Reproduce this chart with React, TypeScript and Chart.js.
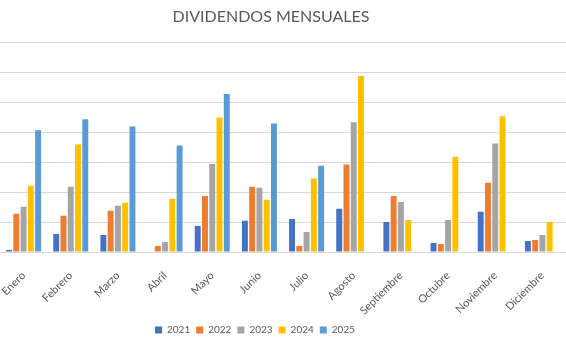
import React, { useEffect, useRef } from "react";
import { Chart, registerables } from "chart.js";

Chart.register(...registerables);

const months = ["Enero", "Febrero", "Marzo", "Abril", "Mayo", "Junio", "Julio", "Agosto", "Septiembre", "Octubre", "Noviembre", "Diciembre"];
const years = ["2021", "2022", "2023", "2024", "2025"];
const v2021 = [0.07, 0.6, 0.57, 0, 0.87, 1.04, 1.1, 1.44, 1.0, 0.3, 1.34, 0.37];
const v2022 = [1.28, 1.21, 1.38, 0.2, 1.87, 2.18, 0.2, 2.92, 1.87, 0.27, 2.31, 0.4];
const v2023 = [1.51, 2.18, 1.54, 0.33, 2.94, 2.14, 0.67, 4.33, 1.67, 1.07, 3.62, 0.57];
const v2024 = [2.21, 3.59, 1.64, 1.78, 4.49, 1.74, 2.45, 5.87, 1.07, 3.18, 4.53, 1.0];
const v2025 = [4.06, 4.43, 4.19, 3.55, 5.27, 4.29, 2.88, null, null, null, null, null];
const colors = ["#4472C4", "#ED7D31", "#A5A5A5", "#FFC000", "#5B9BD5"];
const yMax = 7;

const shiftPlugin = {
  id: "shiftBlocks",
  afterLayout(chart: any) {
    const lg = chart.legend;
    if (lg) {
      lg.top += 4;
      lg.bottom += 4;
      lg.left -= 28;
      lg.right -= 28;
    }
    const tb = chart.titleBlock;
    if (tb) {
      tb.left -= 12;
      tb.right -= 12;
    }
    const xs = chart.scales.x;
    if (xs) xs.bottom = chart.height;
  },
};

export default function App() {
  const ref = useRef<HTMLCanvasElement>(null);
  useEffect(() => {
    if (!ref.current) return;
    const series = [v2021, v2022, v2023, v2024, v2025];
    const font = "Lato, 'Open Sans', sans-serif";
    const chart = new Chart(ref.current, {
      type: "bar",
      data: {
        labels: months,
        datasets: years.map((y, i) => ({
          label: y,
          data: series[i],
          backgroundColor: colors[i],
          borderWidth: 0,
          categoryPercentage: 0.77,
          barPercentage: 0.82,
        })),
      },
      plugins: [shiftPlugin],
      options: {
        animation: false,
        responsive: false,
        maintainAspectRatio: false,
        layout: { padding: { left: 0, right: 0, top: 0, bottom: 0 } },
        plugins: {
          title: {
            display: true,
            text: "DIVIDENDOS MENSUALES",
            color: "#595959",
            font: { family: font, size: 16, weight: "normal" },
            padding: { top: 7, bottom: 16 },
          },
          legend: {
            position: "bottom",
            labels: {
              color: "#595959",
              font: { family: font, size: 10 },
              boxWidth: 7,
              boxHeight: 7,
              padding: 6,
            },
          },
          tooltip: { enabled: false },
        },
        scales: {
          x: {
            grid: { display: false },
            border: { display: true, color: "#d9d9d9" },
            ticks: {
              color: "#595959",
              font: { family: font, size: 11 },
              minRotation: 45,
              maxRotation: 45,
              autoSkip: false,
              padding: 9,
            },
            afterFit: (scale: any) => {
              scale.height = 63;
              scale.paddingLeft = 0;
              scale.paddingRight = 0;
            },
          },
          y: {
            min: 0,
            max: yMax,
            ticks: { display: false, stepSize: 1 },
            grid: { color: "#d9d9d9", drawTicks: false, lineWidth: 1 },
            border: { display: false },
          },
        },
      },
    });
    return () => chart.destroy();
  }, []);
  return (
    <div style={{ position: "fixed", left: 0, top: 0, width: 566, height: 341, background: "#fff" }}>
      <canvas ref={ref} width={566} height={341} style={{ width: 566, height: 341 }} />
    </div>
  );
}
